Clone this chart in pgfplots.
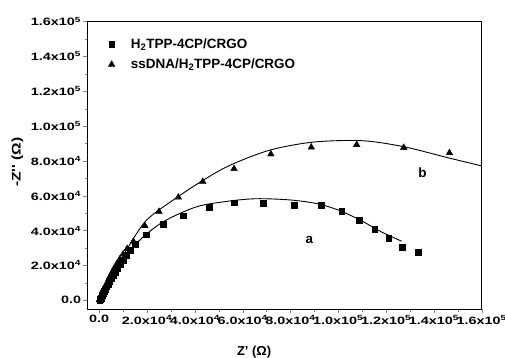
\documentclass[border=0pt]{standalone}
\usepackage{pgfplots}
\pgfplotsset{compat=1.18}
\usepackage{fontspec}
\setmainfont{Liberation Sans}
\newfontfamily\tickfont{Liberation Sans}[FakeStretch=1.35]
\newfontfamily\ylabfont{Liberation Sans}[FakeStretch=1.25]
\begin{document}
\begin{tikzpicture}
\begin{axis}[
  scale only axis,
  width=394.4bp, height=287.5bp,
  xmin=-5000, xmax=160000,
  ymin=-5000, ymax=160000,
  scaled ticks=false,
  tick label style={font=\tickfont\fontsize{10.7}{12}\selectfont\bfseries},
  xtick={0,20000,40000,60000,80000,100000,120000,140000,160000},
  xticklabels={0.0,2.0x10\textsuperscript{4},4.0x10\textsuperscript{4},6.0x10\textsuperscript{4},8.0x10\textsuperscript{4},1.0x10\textsuperscript{5},1.2x10\textsuperscript{5},1.4x10\textsuperscript{5},1.6x10\textsuperscript{5}},
  ytick={0,20000,40000,60000,80000,100000,120000,140000,160000},
  yticklabels={0.0,2.0x10\textsuperscript{4},4.0x10\textsuperscript{4},6.0x10\textsuperscript{4},8.0x10\textsuperscript{4},1.0x10\textsuperscript{5},1.2x10\textsuperscript{5},1.4x10\textsuperscript{5},1.6x10\textsuperscript{5}},
  minor tick num=1,
  tick align=outside,
  tick pos=left,
  major tick length=4bp,
  minor tick length=2.5bp,
  xticklabel style={inner sep=1pt, yshift=-1bp},
  yticklabel style={inner sep=1pt, xshift=-1bp},
  xlabel={\bfseries Z' (Ω)},
  ylabel={\ylabfont\bfseries -Z'' (Ω)},
  xlabel style={at={(rel axis cs:0.423,-0.1485)}, anchor=center, font=\fontsize{13}{14}\selectfont},
  ylabel style={at={(rel axis cs:-0.177,0.511)}, anchor=center, font=\fontsize{12.5}{14}\selectfont},
  legend style={draw=none, fill=none, at={(rel axis cs:0.053,0.948)}, anchor=north west,
    font=\fontsize{13.5}{15}\selectfont\bfseries, row sep=5bp, inner sep=0pt},
  legend cell align=left,
  clip=true,
]
\addplot[only marks, mark=square*, mark size=2.9bp, black] coordinates {
(200,100) (400,500) (700,1200) (1000,2000) (1300,3000) (1700,4000) (2100,5200) (2600,6500)
(3100,7800) (3700,9300) (4300,10800) (5000,12500) (5800,14300) (6700,16300) (7700,18500)
(8800,20800) (10000,23200) (11400,25800) (13000,28800) (15200,32200) (19800,37700)
(26800,43800) (35100,48500) (46000,53200) (56500,56000) (68600,55700) (81600,54500)
(92800,54500) (101400,51100) (108800,46100) (115200,40900) (121100,35800) (126800,30600)
(133500,27700)};
\addlegendentry{\hspace{14bp}H\textsubscript{2}TPP-4CP/CRGO}
\addplot[only marks, mark=triangle*, mark size=3.8bp, black] coordinates {
(100,200) (300,600) (500,1200) (800,2000) (1100,3000) (1400,4000) (1800,5200) (2200,6600)
(2700,8200) (3200,9800) (3800,11600) (4500,13600) (5300,15800) (6200,18200) (7300,20800)
(8600,23600) (10000,26500) (11700,29600) (14300,33800) (19100,42700) (25000,50900)
(33100,59100) (43300,68100) (56400,75500) (71800,83900) (88700,87800) (107700,89300)
(127400,87600) (146500,84600)};
\addlegendentry{\hspace{14bp}ssDNA/H\textsubscript{2}TPP-4CP/CRGO}
\addplot[black, line width=0.9bp, smooth, forget plot] coordinates {
(0,0) (5000,12500) (10000,23500) (17000,34600) (26800,45100) (40800,53700) (54700,57000)
(66000,58300) (79800,57600) (91000,55500) (100000,51800) (109100,46100) (118000,39300) (126500,33900)};
\addplot[black, line width=0.9bp, smooth, forget plot] coordinates {
(0,0) (5000,13000) (10000,25500) (19200,45100) (31000,57600) (43000,68500) (54700,77500)
(71400,86200) (89600,90800) (109800,91600) (127200,88200) (146800,81500) (160000,77100) (165000,75000)};
\node[font=\fontsize{13.5}{15}\selectfont\bfseries] at (axis cs:87900,34600) {a};
\node[font=\fontsize{13.5}{15}\selectfont\bfseries] at (axis cs:135200,73200) {b};
\coordinate (bl) at (rel axis cs:-0.2213,-0.1704);
\coordinate (tr) at (rel axis cs:1.0591,1.0748);
\end{axis}
\pgfresetboundingbox
\useasboundingbox (bl) rectangle (tr);
\end{tikzpicture}
\end{document}
